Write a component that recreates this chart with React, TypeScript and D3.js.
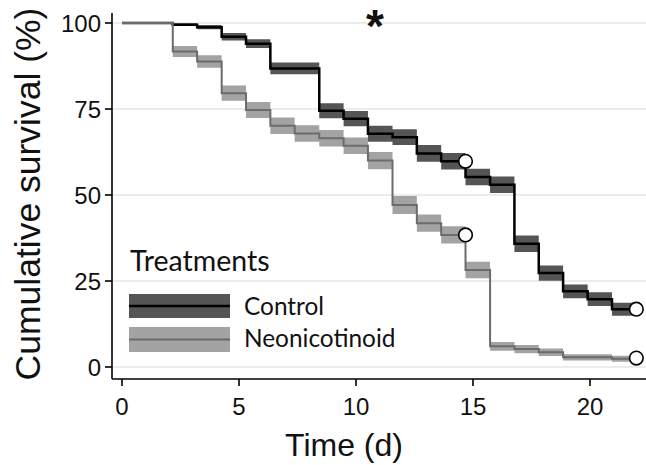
import React from "react";
import * as d3 from "d3";

// Kaplan–Meier steps (time in days, survival in %)
const ctrlTimes = [0, 2.17, 3.21, 4.26, 5.3, 6.34, 8.43, 9.47, 10.51, 11.56, 12.6, 13.64, 14.68, 15.73, 16.77, 17.81, 18.85, 19.9, 20.94, 21.98];
const ctrlSurv = [100, 99.5, 98.8, 96.0, 94.0, 86.8, 74.5, 72.2, 67.8, 66.8, 62.1, 59.8, 55.2, 53.0, 35.8, 27.3, 22.0, 19.7, 16.8, 16.8];
const ctrlSE = [0, 0.4, 0.6, 1.1, 1.3, 1.7, 2.2, 2.2, 2.3, 2.3, 2.4, 2.4, 2.4, 2.4, 2.4, 2.2, 2.0, 2.0, 1.9, 1.9];

const neoTimes = [0, 2.17, 3.21, 4.26, 5.3, 6.34, 7.38, 8.43, 9.47, 10.51, 11.56, 12.6, 13.64, 14.68, 15.73, 16.77, 17.81, 18.85, 20.94, 21.98];
const neoSurv = [100, 91.7, 88.8, 79.6, 74.7, 70.1, 67.9, 66.5, 64.3, 60.0, 47.1, 41.8, 38.4, 28.2, 6.0, 5.2, 4.3, 2.8, 2.4, 2.4];
const neoSE = [0, 1.6, 1.8, 2.2, 2.3, 2.4, 2.4, 2.4, 2.4, 2.5, 2.6, 2.5, 2.5, 2.4, 1.3, 1.2, 1.1, 0.9, 0.9, 0.9];

// censor marks
const censorTimes = [14.68, 14.68, 21.98, 21.98];
const censorSurv = [59.8, 38.4, 16.8, 2.6];

const xTicks = [0, 5, 10, 15, 20];
const yTicks = [0, 25, 50, 75, 100];

const W = 646;
const H = 465;

export default function App() {
  const x = d3.scaleLinear().domain([0, 20]).range([122, 590]);
  const y = d3.scaleLinear().domain([0, 100]).range([367, 23]);

  type P = { t: number; v: number; se: number };
  const mk = (ts: number[], vs: number[], ses: number[]): P[] =>
    ts.map((t, i) => ({ t, v: vs[i], se: ses[i] }));
  const ctrl = mk(ctrlTimes, ctrlSurv, ctrlSE);
  const neo = mk(neoTimes, neoSurv, neoSE);

  const line = d3
    .line<P>()
    .x((d) => x(d.t))
    .y((d) => y(d.v))
    .curve(d3.curveStepAfter);
  const area = d3
    .area<P>()
    .x((d) => x(d.t))
    .y0((d) => y(d.v - d.se))
    .y1((d) => y(d.v + d.se))
    .curve(d3.curveStepAfter);

  const axisFont = "'Liberation Sans', Arial, sans-serif";
  const legFont = "Lato, 'Open Sans', sans-serif";

  return (
    <svg width={W} height={H} style={{ position: "absolute", left: 0, top: 0, background: "#fff" }}>
      <rect x={0} y={0} width={W} height={H} fill="#fff" />
      {/* grid */}
      {yTicks.map((v) => (
        <line key={"g" + v} x1={112} x2={W} y1={y(v)} y2={y(v)} stroke="#e6e6e6" strokeWidth={1.5} />
      ))}
      {/* bands */}
      <path d={area(ctrl) || ""} fill="#555555" />
      <path d={area(neo) || ""} fill="#a3a3a3" />
      {/* lines */}
      <path d={line(ctrl) || ""} fill="none" stroke="#000" strokeWidth={2.5} />
      <path d={line(neo) || ""} fill="none" stroke="#6b6b6b" strokeWidth={2} />
      {/* censor circles */}
      {censorTimes.map((t, i) => (
        <circle key={"c" + i} cx={x(t)} cy={y(censorSurv[i])} r={6.8} fill="#fff" stroke="#000" strokeWidth={1.6} />
      ))}
      {/* axes */}
      <line x1={112} x2={112} y1={13} y2={379} stroke="#000" strokeWidth={1.6} />
      <line x1={112} x2={W} y1={379} y2={379} stroke="#000" strokeWidth={1.6} />
      {yTicks.map((v) => (
        <g key={"yt" + v}>
          <line x1={105} x2={112} y1={y(v)} y2={y(v)} stroke="#000" strokeWidth={1.6} />
          <text x={101} y={y(v) + 8.5} textAnchor="end" fontFamily={axisFont} fontSize={24} fill="#111">
            {v}
          </text>
        </g>
      ))}
      {xTicks.map((t) => (
        <g key={"xt" + t}>
          <line x1={x(t)} x2={x(t)} y1={379} y2={386} stroke="#000" strokeWidth={1.6} />
          <text x={x(t)} y={415} textAnchor="middle" fontFamily={axisFont} fontSize={24} fill="#111">
            {t}
          </text>
        </g>
      ))}
      {/* axis titles */}
      <text x={344} y={456} textAnchor="middle" fontFamily={axisFont} fontSize={32} fill="#111">
        Time (d)
      </text>
      <text
        transform="translate(40,194) rotate(-90)"
        textAnchor="middle"
        fontFamily={axisFont}
        fontSize={35.5}
        fill="#111"
      >
        Cumulative survival (%)
      </text>
      {/* significance */}
      <text x={375} y={42} textAnchor="middle" fontFamily={axisFont} fontWeight="bold" fontSize={46} fill="#111">
        *
      </text>
      {/* legend */}
      <text x={130} y={271} fontFamily={legFont} fontSize={28.5} fill="#111">
        Treatments
      </text>
      <rect x={129} y={294} width={101} height={24} fill="#555555" />
      <line x1={129} x2={230} y1={306} y2={306} stroke="#000" strokeWidth={2.5} />
      <text x={244} y={315} fontFamily={legFont} fontSize={24.4} fill="#111">
        Control
      </text>
      <rect x={129} y={327} width={101} height={25} fill="#a3a3a3" />
      <line x1={129} x2={230} y1={339.5} y2={339.5} stroke="#6b6b6b" strokeWidth={2} />
      <text x={244} y={347} fontFamily={legFont} fontSize={24.4} fill="#111">
        Neonicotinoid
      </text>
    </svg>
  );
}
